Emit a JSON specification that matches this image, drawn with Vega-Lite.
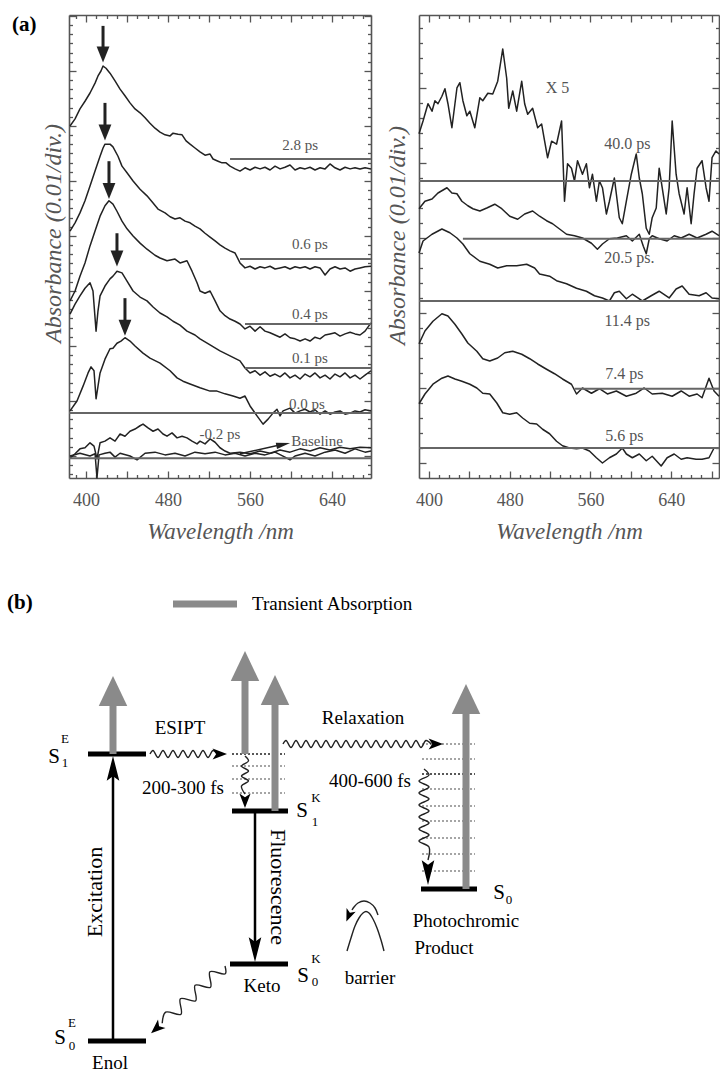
{
"$schema": "https://vega.github.io/schema/vega-lite/v6.json",
"background": "white",
"padding": {"left": 7, "top": 13, "right": 0, "bottom": 0},
"config": {"view": {"stroke": null}, "text": {"font": "Liberation Serif"}},
"datasets": {
"leftCurves": [
{"s":"2.8","x":384.4,"y":6.40},{"s":"2.8","x":389.3,"y":6.53},{"s":"2.8","x":394.1,"y":6.71},{"s":"2.8","x":399.0,"y":6.85},{"s":"2.8","x":403.9,"y":7.00},{"s":"2.8","x":408.8,"y":7.18},{"s":"2.8","x":411.7,"y":7.31},{"s":"2.8","x":414.6,"y":7.40},{"s":"2.8","x":416.6,"y":7.49},{"s":"2.8","x":419.5,"y":7.45},{"s":"2.8","x":423.4,"y":7.36},{"s":"2.8","x":428.3,"y":7.22},{"s":"2.8","x":433.2,"y":7.07},{"s":"2.8","x":438.0,"y":6.95},{"s":"2.8","x":442.9,"y":6.82},{"s":"2.8","x":447.8,"y":6.71},{"s":"2.8","x":452.7,"y":6.64},{"s":"2.8","x":457.6,"y":6.55},{"s":"2.8","x":462.4,"y":6.45},{"s":"2.8","x":467.3,"y":6.36},{"s":"2.8","x":472.2,"y":6.29},{"s":"2.8","x":477.1,"y":6.24},{"s":"2.8","x":482.0,"y":6.22},{"s":"2.8","x":484.9,"y":6.27},{"s":"2.8","x":489.8,"y":6.25},{"s":"2.8","x":493.7,"y":6.24},{"s":"2.8","x":497.6,"y":6.13},{"s":"2.8","x":501.5,"y":6.07},{"s":"2.8","x":506.3,"y":6.00},{"s":"2.8","x":511.2,"y":5.93},{"s":"2.8","x":516.1,"y":5.87},{"s":"2.8","x":521.0,"y":5.89},{"s":"2.8","x":523.9,"y":5.80},{"s":"2.8","x":528.8,"y":5.76},{"s":"2.8","x":532.7,"y":5.73},{"s":"2.8","x":536.6,"y":5.73},{"s":"2.8","x":540.5,"y":5.67},{"s":"2.8","x":545.4,"y":5.62},{"s":"2.8","x":550.2,"y":5.58},{"s":"2.8","x":555.1,"y":5.64},{"s":"2.8","x":560.0,"y":5.60},{"s":"2.8","x":564.9,"y":5.65},{"s":"2.8","x":569.8,"y":5.62},{"s":"2.8","x":574.6,"y":5.65},{"s":"2.8","x":579.5,"y":5.60},{"s":"2.8","x":584.4,"y":5.67},{"s":"2.8","x":589.3,"y":5.62},{"s":"2.8","x":594.1,"y":5.65},{"s":"2.8","x":599.0,"y":5.69},{"s":"2.8","x":603.9,"y":5.60},{"s":"2.8","x":608.8,"y":5.64},{"s":"2.8","x":613.7,"y":5.62},{"s":"2.8","x":618.5,"y":5.65},{"s":"2.8","x":623.4,"y":5.60},{"s":"2.8","x":628.3,"y":5.64},{"s":"2.8","x":633.2,"y":5.62},{"s":"2.8","x":638.0,"y":5.71},{"s":"2.8","x":642.9,"y":5.64},{"s":"2.8","x":647.8,"y":5.60},{"s":"2.8","x":652.7,"y":5.65},{"s":"2.8","x":657.6,"y":5.62},{"s":"2.8","x":662.4,"y":5.64},{"s":"2.8","x":667.3,"y":5.62},{"s":"2.8","x":672.2,"y":5.64},{"s":"2.8","x":678.0,"y":5.62},
{"s":"0.6","x":384.4,"y":4.49},{"s":"0.6","x":389.3,"y":4.64},{"s":"0.6","x":394.1,"y":4.82},{"s":"0.6","x":399.0,"y":5.04},{"s":"0.6","x":403.9,"y":5.31},{"s":"0.6","x":408.8,"y":5.58},{"s":"0.6","x":413.7,"y":5.85},{"s":"0.6","x":416.6,"y":6.00},{"s":"0.6","x":418.5,"y":6.07},{"s":"0.6","x":423.4,"y":6.07},{"s":"0.6","x":426.3,"y":6.02},{"s":"0.6","x":431.2,"y":5.85},{"s":"0.6","x":435.1,"y":5.67},{"s":"0.6","x":440.0,"y":5.55},{"s":"0.6","x":445.9,"y":5.40},{"s":"0.6","x":452.7,"y":5.25},{"s":"0.6","x":459.5,"y":5.13},{"s":"0.6","x":465.4,"y":5.00},{"s":"0.6","x":470.2,"y":4.89},{"s":"0.6","x":477.1,"y":4.82},{"s":"0.6","x":482.0,"y":4.75},{"s":"0.6","x":486.8,"y":4.71},{"s":"0.6","x":491.7,"y":4.73},{"s":"0.6","x":496.6,"y":4.67},{"s":"0.6","x":501.5,"y":4.64},{"s":"0.6","x":506.3,"y":4.58},{"s":"0.6","x":511.2,"y":4.53},{"s":"0.6","x":516.1,"y":4.45},{"s":"0.6","x":521.0,"y":4.38},{"s":"0.6","x":525.9,"y":4.31},{"s":"0.6","x":530.7,"y":4.24},{"s":"0.6","x":535.6,"y":4.18},{"s":"0.6","x":540.5,"y":4.13},{"s":"0.6","x":545.4,"y":4.09},{"s":"0.6","x":550.2,"y":3.91},{"s":"0.6","x":555.1,"y":3.82},{"s":"0.6","x":560.0,"y":3.85},{"s":"0.6","x":564.9,"y":3.80},{"s":"0.6","x":569.8,"y":3.84},{"s":"0.6","x":574.6,"y":3.82},{"s":"0.6","x":579.5,"y":3.85},{"s":"0.6","x":584.4,"y":3.80},{"s":"0.6","x":589.3,"y":3.82},{"s":"0.6","x":594.1,"y":3.84},{"s":"0.6","x":599.0,"y":3.80},{"s":"0.6","x":603.9,"y":3.84},{"s":"0.6","x":608.8,"y":3.82},{"s":"0.6","x":613.7,"y":3.84},{"s":"0.6","x":618.5,"y":3.80},{"s":"0.6","x":623.4,"y":3.84},{"s":"0.6","x":628.3,"y":3.82},{"s":"0.6","x":633.2,"y":3.69},{"s":"0.6","x":638.0,"y":3.80},{"s":"0.6","x":642.9,"y":3.84},{"s":"0.6","x":647.8,"y":3.80},{"s":"0.6","x":652.7,"y":3.82},{"s":"0.6","x":657.6,"y":3.76},{"s":"0.6","x":662.4,"y":3.80},{"s":"0.6","x":667.3,"y":3.82},{"s":"0.6","x":672.2,"y":3.84},{"s":"0.6","x":678.0,"y":3.85},
{"s":"0.4","x":384.4,"y":3.22},{"s":"0.4","x":389.3,"y":3.40},{"s":"0.4","x":394.1,"y":3.67},{"s":"0.4","x":399.0,"y":3.91},{"s":"0.4","x":403.9,"y":4.22},{"s":"0.4","x":408.8,"y":4.49},{"s":"0.4","x":413.7,"y":4.76},{"s":"0.4","x":418.5,"y":4.95},{"s":"0.4","x":422.4,"y":5.04},{"s":"0.4","x":426.3,"y":4.98},{"s":"0.4","x":430.2,"y":4.85},{"s":"0.4","x":435.1,"y":4.67},{"s":"0.4","x":440.0,"y":4.53},{"s":"0.4","x":445.9,"y":4.40},{"s":"0.4","x":452.7,"y":4.27},{"s":"0.4","x":459.5,"y":4.16},{"s":"0.4","x":467.3,"y":4.05},{"s":"0.4","x":472.2,"y":4.00},{"s":"0.4","x":479.0,"y":3.95},{"s":"0.4","x":486.8,"y":3.98},{"s":"0.4","x":491.7,"y":3.91},{"s":"0.4","x":498.5,"y":3.95},{"s":"0.4","x":503.4,"y":3.76},{"s":"0.4","x":508.3,"y":3.55},{"s":"0.4","x":511.2,"y":3.40},{"s":"0.4","x":516.1,"y":3.36},{"s":"0.4","x":521.0,"y":3.40},{"s":"0.4","x":525.9,"y":3.22},{"s":"0.4","x":530.7,"y":3.04},{"s":"0.4","x":535.6,"y":2.95},{"s":"0.4","x":540.5,"y":2.89},{"s":"0.4","x":545.4,"y":2.85},{"s":"0.4","x":550.2,"y":2.80},{"s":"0.4","x":555.1,"y":2.71},{"s":"0.4","x":560.0,"y":2.76},{"s":"0.4","x":564.9,"y":2.67},{"s":"0.4","x":569.8,"y":2.75},{"s":"0.4","x":574.6,"y":2.67},{"s":"0.4","x":579.5,"y":2.64},{"s":"0.4","x":584.4,"y":2.60},{"s":"0.4","x":589.3,"y":2.56},{"s":"0.4","x":594.1,"y":2.62},{"s":"0.4","x":599.0,"y":2.55},{"s":"0.4","x":603.9,"y":2.53},{"s":"0.4","x":608.8,"y":2.49},{"s":"0.4","x":613.7,"y":2.53},{"s":"0.4","x":618.5,"y":2.49},{"s":"0.4","x":623.4,"y":2.56},{"s":"0.4","x":628.3,"y":2.53},{"s":"0.4","x":633.2,"y":2.60},{"s":"0.4","x":638.0,"y":2.62},{"s":"0.4","x":642.9,"y":2.64},{"s":"0.4","x":647.8,"y":2.58},{"s":"0.4","x":652.7,"y":2.62},{"s":"0.4","x":657.6,"y":2.65},{"s":"0.4","x":662.4,"y":2.62},{"s":"0.4","x":667.3,"y":2.60},{"s":"0.4","x":672.2,"y":2.67},{"s":"0.4","x":678.0,"y":2.82},
{"s":"0.1","x":384.4,"y":2.98},{"s":"0.1","x":389.3,"y":3.16},{"s":"0.1","x":394.1,"y":3.31},{"s":"0.1","x":399.0,"y":3.45},{"s":"0.1","x":403.9,"y":3.55},{"s":"0.1","x":406.8,"y":3.40},{"s":"0.1","x":409.8,"y":2.67},{"s":"0.1","x":411.7,"y":3.04},{"s":"0.1","x":413.7,"y":3.31},{"s":"0.1","x":418.5,"y":3.49},{"s":"0.1","x":423.4,"y":3.62},{"s":"0.1","x":426.3,"y":3.67},{"s":"0.1","x":430.2,"y":3.76},{"s":"0.1","x":435.1,"y":3.73},{"s":"0.1","x":440.0,"y":3.58},{"s":"0.1","x":445.9,"y":3.40},{"s":"0.1","x":452.7,"y":3.29},{"s":"0.1","x":459.5,"y":3.22},{"s":"0.1","x":465.4,"y":3.11},{"s":"0.1","x":472.2,"y":3.00},{"s":"0.1","x":479.0,"y":2.93},{"s":"0.1","x":484.9,"y":2.85},{"s":"0.1","x":491.7,"y":2.78},{"s":"0.1","x":498.5,"y":2.67},{"s":"0.1","x":506.3,"y":2.60},{"s":"0.1","x":511.2,"y":2.53},{"s":"0.1","x":521.0,"y":2.42},{"s":"0.1","x":530.7,"y":2.31},{"s":"0.1","x":540.5,"y":2.22},{"s":"0.1","x":550.2,"y":2.13},{"s":"0.1","x":555.1,"y":2.00},{"s":"0.1","x":560.0,"y":1.91},{"s":"0.1","x":564.9,"y":1.95},{"s":"0.1","x":569.8,"y":1.87},{"s":"0.1","x":574.6,"y":1.93},{"s":"0.1","x":579.5,"y":1.85},{"s":"0.1","x":584.4,"y":1.89},{"s":"0.1","x":589.3,"y":1.84},{"s":"0.1","x":594.1,"y":1.91},{"s":"0.1","x":599.0,"y":1.82},{"s":"0.1","x":603.9,"y":1.87},{"s":"0.1","x":608.8,"y":1.80},{"s":"0.1","x":613.7,"y":1.89},{"s":"0.1","x":618.5,"y":1.84},{"s":"0.1","x":623.4,"y":1.91},{"s":"0.1","x":628.3,"y":1.82},{"s":"0.1","x":633.2,"y":1.87},{"s":"0.1","x":638.0,"y":1.80},{"s":"0.1","x":642.9,"y":1.89},{"s":"0.1","x":647.8,"y":1.84},{"s":"0.1","x":652.7,"y":1.91},{"s":"0.1","x":657.6,"y":1.82},{"s":"0.1","x":662.4,"y":1.87},{"s":"0.1","x":667.3,"y":1.80},{"s":"0.1","x":672.2,"y":1.87},{"s":"0.1","x":678.0,"y":1.95},
{"s":"0.0","x":384.4,"y":1.22},{"s":"0.0","x":391.2,"y":1.40},{"s":"0.0","x":397.1,"y":1.67},{"s":"0.0","x":402.0,"y":1.91},{"s":"0.0","x":404.9,"y":2.02},{"s":"0.0","x":407.8,"y":1.95},{"s":"0.0","x":409.8,"y":1.44},{"s":"0.0","x":411.7,"y":1.67},{"s":"0.0","x":413.7,"y":1.91},{"s":"0.0","x":418.5,"y":2.16},{"s":"0.0","x":423.4,"y":2.35},{"s":"0.0","x":426.3,"y":2.36},{"s":"0.0","x":430.2,"y":2.45},{"s":"0.0","x":434.1,"y":2.49},{"s":"0.0","x":438.0,"y":2.55},{"s":"0.0","x":442.9,"y":2.49},{"s":"0.0","x":447.8,"y":2.40},{"s":"0.0","x":455.6,"y":2.27},{"s":"0.0","x":462.4,"y":2.18},{"s":"0.0","x":472.2,"y":2.09},{"s":"0.0","x":482.0,"y":1.95},{"s":"0.0","x":488.8,"y":1.82},{"s":"0.0","x":494.6,"y":1.76},{"s":"0.0","x":501.5,"y":1.71},{"s":"0.0","x":511.2,"y":1.64},{"s":"0.0","x":521.0,"y":1.58},{"s":"0.0","x":527.8,"y":1.58},{"s":"0.0","x":535.6,"y":1.53},{"s":"0.0","x":543.4,"y":1.49},{"s":"0.0","x":550.2,"y":1.45},{"s":"0.0","x":555.1,"y":1.49},{"s":"0.0","x":560.0,"y":1.31},{"s":"0.0","x":566.8,"y":1.13},{"s":"0.0","x":572.7,"y":0.98},{"s":"0.0","x":577.6,"y":1.07},{"s":"0.0","x":582.4,"y":1.18},{"s":"0.0","x":586.3,"y":1.25},{"s":"0.0","x":589.3,"y":1.13},{"s":"0.0","x":592.2,"y":1.22},{"s":"0.0","x":599.0,"y":1.27},{"s":"0.0","x":603.9,"y":1.18},{"s":"0.0","x":608.8,"y":1.22},{"s":"0.0","x":613.7,"y":1.25},{"s":"0.0","x":618.5,"y":1.20},{"s":"0.0","x":623.4,"y":1.24},{"s":"0.0","x":628.3,"y":1.16},{"s":"0.0","x":633.2,"y":1.22},{"s":"0.0","x":638.0,"y":1.16},{"s":"0.0","x":642.9,"y":1.20},{"s":"0.0","x":647.8,"y":1.22},{"s":"0.0","x":652.7,"y":1.16},{"s":"0.0","x":657.6,"y":1.18},{"s":"0.0","x":662.4,"y":1.22},{"s":"0.0","x":667.3,"y":1.20},{"s":"0.0","x":672.2,"y":1.24},{"s":"0.0","x":678.0,"y":1.22},
{"s":"-0.2","x":384.4,"y":0.36},{"s":"-0.2","x":389.3,"y":0.44},{"s":"-0.2","x":394.1,"y":0.53},{"s":"-0.2","x":399.0,"y":0.55},{"s":"-0.2","x":403.9,"y":0.64},{"s":"-0.2","x":407.8,"y":0.58},{"s":"-0.2","x":410.7,"y":0.35},{"s":"-0.2","x":413.7,"y":0.64},{"s":"-0.2","x":418.5,"y":0.67},{"s":"-0.2","x":423.4,"y":0.73},{"s":"-0.2","x":428.3,"y":0.67},{"s":"-0.2","x":433.2,"y":0.80},{"s":"-0.2","x":438.0,"y":0.76},{"s":"-0.2","x":442.9,"y":0.85},{"s":"-0.2","x":447.8,"y":0.89},{"s":"-0.2","x":452.7,"y":0.95},{"s":"-0.2","x":455.6,"y":0.98},{"s":"-0.2","x":460.5,"y":0.91},{"s":"-0.2","x":465.4,"y":0.85},{"s":"-0.2","x":470.2,"y":0.89},{"s":"-0.2","x":475.1,"y":0.80},{"s":"-0.2","x":479.0,"y":0.76},{"s":"-0.2","x":483.9,"y":0.82},{"s":"-0.2","x":488.8,"y":0.73},{"s":"-0.2","x":493.7,"y":0.76},{"s":"-0.2","x":498.5,"y":0.73},{"s":"-0.2","x":503.4,"y":0.67},{"s":"-0.2","x":508.3,"y":0.62},{"s":"-0.2","x":511.2,"y":0.67},{"s":"-0.2","x":516.1,"y":0.62},{"s":"-0.2","x":521.0,"y":0.71},{"s":"-0.2","x":525.9,"y":0.65},{"s":"-0.2","x":530.7,"y":0.55},{"s":"-0.2","x":535.6,"y":0.49},{"s":"-0.2","x":540.5,"y":0.45},{"s":"-0.2","x":550.2,"y":0.47},{"s":"-0.2","x":560.0,"y":0.44},{"s":"-0.2","x":569.8,"y":0.49},{"s":"-0.2","x":579.5,"y":0.45},{"s":"-0.2","x":589.3,"y":0.51},{"s":"-0.2","x":599.0,"y":0.47},{"s":"-0.2","x":608.8,"y":0.53},{"s":"-0.2","x":618.5,"y":0.49},{"s":"-0.2","x":628.3,"y":0.55},{"s":"-0.2","x":638.0,"y":0.51},{"s":"-0.2","x":647.8,"y":0.56},{"s":"-0.2","x":657.6,"y":0.53},{"s":"-0.2","x":667.3,"y":0.56},{"s":"-0.2","x":678.0,"y":0.55},
{"s":"base","x":384.4,"y":0.40},{"s":"base","x":394.1,"y":0.45},{"s":"base","x":403.9,"y":0.40},{"s":"base","x":408.8,"y":0.44},{"s":"base","x":410.7,"y":0.00},{"s":"base","x":412.7,"y":0.42},{"s":"base","x":418.5,"y":0.45},{"s":"base","x":423.4,"y":0.47},{"s":"base","x":428.3,"y":0.38},{"s":"base","x":433.2,"y":0.45},{"s":"base","x":442.9,"y":0.40},{"s":"base","x":449.8,"y":0.33},{"s":"base","x":457.6,"y":0.45},{"s":"base","x":467.3,"y":0.47},{"s":"base","x":477.1,"y":0.42},{"s":"base","x":486.8,"y":0.45},{"s":"base","x":496.6,"y":0.40},{"s":"base","x":506.3,"y":0.47},{"s":"base","x":516.1,"y":0.44},{"s":"base","x":525.9,"y":0.47},{"s":"base","x":535.6,"y":0.42},{"s":"base","x":545.4,"y":0.45},{"s":"base","x":555.1,"y":0.40},{"s":"base","x":564.9,"y":0.45},{"s":"base","x":574.6,"y":0.42},{"s":"base","x":584.4,"y":0.47},{"s":"base","x":594.1,"y":0.38},{"s":"base","x":599.0,"y":0.33},{"s":"base","x":603.9,"y":0.40},{"s":"base","x":613.7,"y":0.45},{"s":"base","x":623.4,"y":0.40},{"s":"base","x":633.2,"y":0.47},{"s":"base","x":642.9,"y":0.51},{"s":"base","x":652.7,"y":0.45},{"s":"base","x":662.4,"y":0.53},{"s":"base","x":672.2,"y":0.47},{"s":"base","x":678.0,"y":0.49}
],
"leftRefs": [
{"s":"2.8","x1":540.5,"x2":678,"y":5.80},{"s":"0.6","x1":550.2,"x2":678,"y":3.98},{"s":"0.4","x1":555.1,"x2":678,"y":2.80},{"s":"0.1","x1":555.1,"x2":678,"y":2.00},{"s":"0.0","x1":383.4,"x2":678,"y":1.18},{"s":"base","x1":383.4,"x2":678,"y":0.36}
],
"leftLabels": [
{"t":"2.8 ps","x":608.8,"y":6.05},{"t":"0.6 ps","x":618.5,"y":4.25},{"t":"0.4 ps","x":618.5,"y":2.98},{"t":"0.1 ps","x":618.5,"y":2.18},{"t":"0.0 ps","x":615.6,"y":1.35},{"t":"-0.2 ps","x":530.7,"y":0.80},{"t":"Baseline","x":625.4,"y":0.67}
],
"leftArrows": [
{"x":416.6,"y1":8.22,"y2":7.82,"yh":7.70},{"x":418.5,"y1":6.82,"y2":6.40,"yh":6.28},{"x":422.4,"y1":5.76,"y2":5.34,"yh":5.22},{"x":430.2,"y1":4.45,"y2":4.11,"yh":3.99},{"x":438.0,"y1":3.27,"y2":2.85,"yh":2.73}
],
"baseArrow": [{"x1":550.2,"y1":0.44,"x2":591.0,"y2":0.61,"xh":592.4,"yh":0.61}],
"tagA": [{"t":"(a)","x":327.8,"y":8.24}],
"rightCurves": [
{"s":"40.0","x":390.1,"y":4.59},{"s":"40.0","x":394.1,"y":4.76},{"s":"40.0","x":399.0,"y":4.99},{"s":"40.0","x":403.0,"y":4.89},{"s":"40.0","x":405.9,"y":5.03},{"s":"40.0","x":408.9,"y":4.99},{"s":"40.0","x":412.8,"y":5.09},{"s":"40.0","x":415.8,"y":5.19},{"s":"40.0","x":418.8,"y":4.99},{"s":"40.0","x":422.7,"y":4.67},{"s":"40.0","x":427.7,"y":5.20},{"s":"40.0","x":430.6,"y":5.27},{"s":"40.0","x":433.6,"y":5.03},{"s":"40.0","x":437.5,"y":4.83},{"s":"40.0","x":440.5,"y":4.89},{"s":"40.0","x":445.4,"y":4.67},{"s":"40.0","x":450.4,"y":5.07},{"s":"40.0","x":453.3,"y":5.03},{"s":"40.0","x":458.3,"y":5.13},{"s":"40.0","x":463.2,"y":5.12},{"s":"40.0","x":468.1,"y":5.29},{"s":"40.0","x":473.1,"y":5.72},{"s":"40.0","x":477.0,"y":5.33},{"s":"40.0","x":479.0,"y":4.93},{"s":"40.0","x":483.0,"y":5.16},{"s":"40.0","x":486.9,"y":4.89},{"s":"40.0","x":491.9,"y":5.29},{"s":"40.0","x":494.8,"y":4.99},{"s":"40.0","x":497.8,"y":4.85},{"s":"40.0","x":502.7,"y":4.93},{"s":"40.0","x":507.7,"y":4.67},{"s":"40.0","x":511.6,"y":4.72},{"s":"40.0","x":514.6,"y":4.49},{"s":"40.0","x":517.5,"y":4.27},{"s":"40.0","x":521.5,"y":4.49},{"s":"40.0","x":526.4,"y":4.45},{"s":"40.0","x":531.4,"y":4.76},{"s":"40.0","x":534.3,"y":3.69},{"s":"40.0","x":537.3,"y":4.19},{"s":"40.0","x":541.2,"y":4.13},{"s":"40.0","x":544.2,"y":3.96},{"s":"40.0","x":547.2,"y":4.23},{"s":"40.0","x":552.1,"y":4.05},{"s":"40.0","x":556.0,"y":4.19},{"s":"40.0","x":559.0,"y":3.87},{"s":"40.0","x":562.0,"y":4.05},{"s":"40.0","x":565.9,"y":3.69},{"s":"40.0","x":568.9,"y":3.96},{"s":"40.0","x":571.9,"y":3.87},{"s":"40.0","x":575.8,"y":3.52},{"s":"40.0","x":578.8,"y":3.69},{"s":"40.0","x":583.7,"y":4.00},{"s":"40.0","x":588.6,"y":3.47},{"s":"40.0","x":591.6,"y":3.39},{"s":"40.0","x":595.6,"y":3.69},{"s":"40.0","x":600.5,"y":4.05},{"s":"40.0","x":605.4,"y":4.32},{"s":"40.0","x":608.4,"y":4.00},{"s":"40.0","x":611.4,"y":3.79},{"s":"40.0","x":615.3,"y":3.33},{"s":"40.0","x":618.3,"y":3.25},{"s":"40.0","x":621.2,"y":3.47},{"s":"40.0","x":625.2,"y":3.60},{"s":"40.0","x":628.1,"y":4.13},{"s":"40.0","x":631.1,"y":3.87},{"s":"40.0","x":635.1,"y":3.52},{"s":"40.0","x":638.0,"y":3.87},{"s":"40.0","x":641.0,"y":4.76},{"s":"40.0","x":644.9,"y":4.05},{"s":"40.0","x":647.9,"y":3.79},{"s":"40.0","x":652.8,"y":3.52},{"s":"40.0","x":655.8,"y":3.87},{"s":"40.0","x":659.8,"y":3.39},{"s":"40.0","x":662.7,"y":3.79},{"s":"40.0","x":665.7,"y":4.13},{"s":"40.0","x":670.6,"y":4.23},{"s":"40.0","x":674.6,"y":3.87},{"s":"40.0","x":677.5,"y":3.69},{"s":"40.0","x":680.5,"y":4.27},{"s":"40.0","x":684.4,"y":4.36},{"s":"40.0","x":687.4,"y":4.32},
{"s":"20.5","x":390.1,"y":3.59},{"s":"20.5","x":396.0,"y":3.69},{"s":"20.5","x":403.0,"y":3.72},{"s":"20.5","x":408.9,"y":3.80},{"s":"20.5","x":417.8,"y":3.87},{"s":"20.5","x":422.7,"y":3.80},{"s":"20.5","x":427.7,"y":3.79},{"s":"20.5","x":432.6,"y":3.69},{"s":"20.5","x":438.5,"y":3.63},{"s":"20.5","x":443.5,"y":3.59},{"s":"20.5","x":450.4,"y":3.56},{"s":"20.5","x":457.3,"y":3.60},{"s":"20.5","x":465.2,"y":3.65},{"s":"20.5","x":472.1,"y":3.59},{"s":"20.5","x":480.0,"y":3.49},{"s":"20.5","x":487.9,"y":3.45},{"s":"20.5","x":494.8,"y":3.52},{"s":"20.5","x":502.7,"y":3.56},{"s":"20.5","x":509.6,"y":3.49},{"s":"20.5","x":516.5,"y":3.43},{"s":"20.5","x":522.5,"y":3.39},{"s":"20.5","x":529.4,"y":3.32},{"s":"20.5","x":536.3,"y":3.25},{"s":"20.5","x":544.2,"y":3.23},{"s":"20.5","x":552.1,"y":3.20},{"s":"20.5","x":561.0,"y":3.13},{"s":"20.5","x":566.9,"y":3.05},{"s":"20.5","x":571.9,"y":3.12},{"s":"20.5","x":578.8,"y":3.19},{"s":"20.5","x":586.7,"y":3.20},{"s":"20.5","x":595.6,"y":3.23},{"s":"20.5","x":601.5,"y":3.16},{"s":"20.5","x":608.4,"y":3.25},{"s":"20.5","x":612.4,"y":3.09},{"s":"20.5","x":615.3,"y":2.99},{"s":"20.5","x":618.3,"y":3.19},{"s":"20.5","x":621.2,"y":3.23},{"s":"20.5","x":628.1,"y":3.19},{"s":"20.5","x":636.0,"y":3.16},{"s":"20.5","x":643.0,"y":3.23},{"s":"20.5","x":649.9,"y":3.20},{"s":"20.5","x":657.8,"y":3.25},{"s":"20.5","x":665.7,"y":3.20},{"s":"20.5","x":674.6,"y":3.25},{"s":"20.5","x":680.5,"y":3.29},{"s":"20.5","x":687.4,"y":3.23},
{"s":"11.4","x":390.1,"y":3.00},{"s":"11.4","x":394.1,"y":3.16},{"s":"11.4","x":403.0,"y":3.25},{"s":"11.4","x":412.8,"y":3.32},{"s":"11.4","x":420.7,"y":3.27},{"s":"11.4","x":427.7,"y":3.20},{"s":"11.4","x":433.6,"y":3.12},{"s":"11.4","x":440.5,"y":2.99},{"s":"11.4","x":450.4,"y":2.89},{"s":"11.4","x":460.2,"y":2.85},{"s":"11.4","x":468.1,"y":2.80},{"s":"11.4","x":477.0,"y":2.83},{"s":"11.4","x":486.9,"y":2.83},{"s":"11.4","x":496.8,"y":2.85},{"s":"11.4","x":504.7,"y":2.80},{"s":"11.4","x":509.6,"y":2.72},{"s":"11.4","x":519.5,"y":2.69},{"s":"11.4","x":526.4,"y":2.63},{"s":"11.4","x":536.3,"y":2.59},{"s":"11.4","x":546.2,"y":2.53},{"s":"11.4","x":556.0,"y":2.49},{"s":"11.4","x":564.0,"y":2.43},{"s":"11.4","x":571.9,"y":2.40},{"s":"11.4","x":578.8,"y":2.36},{"s":"11.4","x":583.7,"y":2.47},{"s":"11.4","x":588.6,"y":2.49},{"s":"11.4","x":595.6,"y":2.39},{"s":"11.4","x":601.5,"y":2.45},{"s":"11.4","x":611.4,"y":2.36},{"s":"11.4","x":620.2,"y":2.43},{"s":"11.4","x":628.1,"y":2.49},{"s":"11.4","x":638.0,"y":2.40},{"s":"11.4","x":644.9,"y":2.52},{"s":"11.4","x":650.9,"y":2.56},{"s":"11.4","x":657.8,"y":2.45},{"s":"11.4","x":667.7,"y":2.43},{"s":"11.4","x":674.6,"y":2.47},{"s":"11.4","x":680.5,"y":2.40},{"s":"11.4","x":687.4,"y":2.39},
{"s":"7.4","x":390.1,"y":1.79},{"s":"7.4","x":396.0,"y":1.96},{"s":"7.4","x":403.9,"y":2.09},{"s":"7.4","x":412.8,"y":2.19},{"s":"7.4","x":418.8,"y":2.16},{"s":"7.4","x":425.7,"y":2.05},{"s":"7.4","x":432.6,"y":1.92},{"s":"7.4","x":438.5,"y":1.80},{"s":"7.4","x":447.4,"y":1.69},{"s":"7.4","x":453.3,"y":1.59},{"s":"7.4","x":460.2,"y":1.56},{"s":"7.4","x":468.1,"y":1.60},{"s":"7.4","x":475.1,"y":1.67},{"s":"7.4","x":483.0,"y":1.69},{"s":"7.4","x":491.9,"y":1.65},{"s":"7.4","x":499.8,"y":1.59},{"s":"7.4","x":507.7,"y":1.52},{"s":"7.4","x":516.5,"y":1.45},{"s":"7.4","x":524.4,"y":1.39},{"s":"7.4","x":532.3,"y":1.32},{"s":"7.4","x":541.2,"y":1.25},{"s":"7.4","x":546.2,"y":1.12},{"s":"7.4","x":552.1,"y":1.20},{"s":"7.4","x":561.0,"y":1.13},{"s":"7.4","x":568.9,"y":1.19},{"s":"7.4","x":576.8,"y":1.12},{"s":"7.4","x":585.7,"y":1.16},{"s":"7.4","x":595.6,"y":1.09},{"s":"7.4","x":605.4,"y":1.13},{"s":"7.4","x":613.3,"y":1.20},{"s":"7.4","x":621.2,"y":1.12},{"s":"7.4","x":631.1,"y":1.13},{"s":"7.4","x":641.0,"y":1.09},{"s":"7.4","x":649.9,"y":1.16},{"s":"7.4","x":657.8,"y":1.09},{"s":"7.4","x":665.7,"y":1.12},{"s":"7.4","x":670.6,"y":1.07},{"s":"7.4","x":677.5,"y":1.33},{"s":"7.4","x":682.5,"y":1.16},{"s":"7.4","x":687.4,"y":1.09},
{"s":"5.6","x":390.1,"y":0.99},{"s":"5.6","x":396.0,"y":1.12},{"s":"5.6","x":403.9,"y":1.25},{"s":"5.6","x":412.8,"y":1.33},{"s":"5.6","x":418.8,"y":1.36},{"s":"5.6","x":425.7,"y":1.32},{"s":"5.6","x":432.6,"y":1.29},{"s":"5.6","x":440.5,"y":1.25},{"s":"5.6","x":447.4,"y":1.20},{"s":"5.6","x":453.3,"y":1.13},{"s":"5.6","x":460.2,"y":1.12},{"s":"5.6","x":467.2,"y":1.00},{"s":"5.6","x":473.1,"y":0.87},{"s":"5.6","x":480.0,"y":0.85},{"s":"5.6","x":486.9,"y":0.87},{"s":"5.6","x":492.8,"y":0.80},{"s":"5.6","x":499.8,"y":0.73},{"s":"5.6","x":506.7,"y":0.72},{"s":"5.6","x":512.6,"y":0.65},{"s":"5.6","x":519.5,"y":0.59},{"s":"5.6","x":526.4,"y":0.49},{"s":"5.6","x":532.3,"y":0.43},{"s":"5.6","x":539.3,"y":0.40},{"s":"5.6","x":546.2,"y":0.39},{"s":"5.6","x":552.1,"y":0.40},{"s":"5.6","x":559.0,"y":0.36},{"s":"5.6","x":565.9,"y":0.27},{"s":"5.6","x":571.9,"y":0.20},{"s":"5.6","x":578.8,"y":0.27},{"s":"5.6","x":585.7,"y":0.32},{"s":"5.6","x":591.6,"y":0.40},{"s":"5.6","x":595.6,"y":0.32},{"s":"5.6","x":601.5,"y":0.27},{"s":"5.6","x":608.4,"y":0.32},{"s":"5.6","x":615.3,"y":0.23},{"s":"5.6","x":621.2,"y":0.29},{"s":"5.6","x":630.1,"y":0.16},{"s":"5.6","x":636.0,"y":0.27},{"s":"5.6","x":643.0,"y":0.32},{"s":"5.6","x":649.9,"y":0.25},{"s":"5.6","x":655.8,"y":0.27},{"s":"5.6","x":664.7,"y":0.25},{"s":"5.6","x":670.6,"y":0.25},{"s":"5.6","x":677.5,"y":0.27},{"s":"5.6","x":682.5,"y":0.40},{"s":"5.6","x":687.4,"y":0.40}
],
"rightRefs": [
{"s":"40.0","x1":390.1,"x2":687.4,"y":3.96},{"s":"20.5","x1":433.6,"x2":687.4,"y":3.19},{"s":"11.4","x1":390.1,"x2":687.4,"y":2.36},{"s":"7.4","x1":544.2,"x2":687.4,"y":1.19},{"s":"5.6","x1":390.1,"x2":687.4,"y":0.40}
],
"rightLabels": [
{"t":"X 5","x":527.4,"y":5.20},{"t":"40.0 ps","x":596.5,"y":4.45},{"t":"20.5 ps.","x":598.5,"y":2.93},{"t":"11.4 ps","x":596.5,"y":2.09},{"t":"7.4 ps","x":593.6,"y":1.39},{"t":"5.6 ps","x":593.6,"y":0.56}
],
"levels": [
{"n":"S1E","u1":19,"u2":77,"v":318},{"n":"S0E","u1":19,"u2":77,"v":31},{"n":"S1K","u1":163,"u2":219,"v":261},{"n":"S0K","u1":161,"u2":219,"v":108},{"n":"S0P","u1":352,"u2":408,"v":183}
],
"vib": [
{"g":"keto","k":"strong","u1":163,"u2":216,"v":318},{"g":"keto","k":"weak","u1":163,"u2":216,"v":306},{"g":"keto","k":"weak","u1":163,"u2":216,"v":293},{"g":"keto","k":"weak","u1":163,"u2":216,"v":279},
{"g":"prod","k":"weak","u1":353,"u2":406,"v":328},{"g":"prod","k":"weak","u1":353,"u2":406,"v":313},{"g":"prod","k":"strong","u1":353,"u2":406,"v":298},{"g":"prod","k":"weak","u1":353,"u2":406,"v":283},{"g":"prod","k":"weak","u1":353,"u2":406,"v":266},{"g":"prod","k":"weak","u1":353,"u2":406,"v":251},{"g":"prod","k":"weak","u1":353,"u2":406,"v":234},{"g":"prod","k":"weak","u1":353,"u2":406,"v":218},{"g":"prod","k":"weak","u1":353,"u2":406,"v":201}
],
"ta": [
{"u":44,"v0":318,"v1":372,"vh":381},{"u":176,"v0":318,"v1":397,"vh":406},{"u":206,"v0":261,"v1":373,"vh":382},{"u":397,"v0":183,"v1":364,"vh":373}
],
"trans": [
{"n":"Excitation","u":44,"v0":31,"v1":296},{"n":"Fluorescence","u":186,"v0":261,"v1":128}
],
"waves": [
{"id":"esipt","i":0,"u":81,"v":318},{"id":"esipt","i":1,"u":84,"v":321.5},{"id":"esipt","i":2,"u":89,"v":314.5},{"id":"esipt","i":3,"u":94,"v":321.5},{"id":"esipt","i":4,"u":99,"v":314.5},{"id":"esipt","i":5,"u":104,"v":321.5},{"id":"esipt","i":6,"u":109,"v":314.5},{"id":"esipt","i":7,"u":114,"v":321.5},{"id":"esipt","i":8,"u":119,"v":314.5},{"id":"esipt","i":9,"u":124,"v":321.5},{"id":"esipt","i":10,"u":129,"v":314.5},{"id":"esipt","i":11,"u":134,"v":321.5},{"id":"esipt","i":12,"u":139,"v":314.5},{"id":"esipt","i":13,"u":144,"v":321.5},{"id":"esipt","i":14,"u":148,"v":318},
{"id":"relax","i":0,"u":214,"v":328},{"id":"relax","i":1,"u":217,"v":331.5},{"id":"relax","i":2,"u":222,"v":324.5},{"id":"relax","i":3,"u":227,"v":331.5},{"id":"relax","i":4,"u":232,"v":324.5},{"id":"relax","i":5,"u":237,"v":331.5},{"id":"relax","i":6,"u":242,"v":324.5},{"id":"relax","i":7,"u":247,"v":331.5},{"id":"relax","i":8,"u":252,"v":324.5},{"id":"relax","i":9,"u":257,"v":331.5},{"id":"relax","i":10,"u":262,"v":324.5},{"id":"relax","i":11,"u":267,"v":331.5},{"id":"relax","i":12,"u":272,"v":324.5},{"id":"relax","i":13,"u":277,"v":331.5},{"id":"relax","i":14,"u":282,"v":324.5},{"id":"relax","i":15,"u":287,"v":331.5},{"id":"relax","i":16,"u":292,"v":324.5},{"id":"relax","i":17,"u":297,"v":331.5},{"id":"relax","i":18,"u":302,"v":324.5},{"id":"relax","i":19,"u":307,"v":331.5},{"id":"relax","i":20,"u":312,"v":324.5},{"id":"relax","i":21,"u":317,"v":331.5},{"id":"relax","i":22,"u":322,"v":324.5},{"id":"relax","i":23,"u":327,"v":331.5},{"id":"relax","i":24,"u":332,"v":324.5},{"id":"relax","i":25,"u":337,"v":331.5},{"id":"relax","i":26,"u":342,"v":324.5},{"id":"relax","i":27,"u":347,"v":331.5},{"id":"relax","i":28,"u":352,"v":324.5},{"id":"relax","i":29,"u":357,"v":331.5},{"id":"relax","i":30,"u":362,"v":328},
{"id":"keto","i":0,"u":176,"v":316},{"id":"keto","i":1,"u":179.5,"v":311},{"id":"keto","i":2,"u":172.5,"v":306},{"id":"keto","i":3,"u":179.5,"v":301},{"id":"keto","i":4,"u":172.5,"v":296},{"id":"keto","i":5,"u":179.5,"v":291},{"id":"keto","i":6,"u":172.5,"v":286},{"id":"keto","i":7,"u":176,"v":278},
{"id":"prod","i":0,"u":355,"v":303},{"id":"prod","i":1,"u":360,"v":297},{"id":"prod","i":2,"u":350,"v":291},{"id":"prod","i":3,"u":360,"v":285},{"id":"prod","i":4,"u":350,"v":279},{"id":"prod","i":5,"u":360,"v":273},{"id":"prod","i":6,"u":350,"v":267},{"id":"prod","i":7,"u":360,"v":261},{"id":"prod","i":8,"u":350,"v":255},{"id":"prod","i":9,"u":360,"v":249},{"id":"prod","i":10,"u":350,"v":243},{"id":"prod","i":11,"u":360,"v":237},{"id":"prod","i":12,"u":350,"v":231},{"id":"prod","i":13,"u":360,"v":225},{"id":"prod","i":14,"u":359,"v":212},
{"id":"enol","i":0,"u":156,"v":106},{"id":"enol","i":1,"u":156.3,"v":98.2},{"id":"enol","i":2,"u":140.9,"v":100.3},{"id":"enol","i":3,"u":141.5,"v":84.7},{"id":"enol","i":4,"u":126.1,"v":86.8},{"id":"enol","i":5,"u":126.7,"v":71.3},{"id":"enol","i":6,"u":111.4,"v":73.3},{"id":"enol","i":7,"u":112.0,"v":57.8},{"id":"enol","i":8,"u":96.6,"v":59.8},{"id":"enol","i":9,"u":93.2,"v":48.7},
{"id":"hump","i":0,"u":278,"v":121},{"id":"hump","i":1,"u":282,"v":134},{"id":"hump","i":2,"u":286,"v":146},{"id":"hump","i":3,"u":290,"v":154},{"id":"hump","i":4,"u":294,"v":159},{"id":"hump","i":5,"u":297,"v":160.5},{"id":"hump","i":6,"u":300,"v":159},{"id":"hump","i":7,"u":304,"v":153},{"id":"hump","i":8,"u":308,"v":144},{"id":"hump","i":9,"u":312,"v":132},{"id":"hump","i":10,"u":315,"v":121},
{"id":"over","i":0,"u":309,"v":157},{"id":"over","i":1,"u":306,"v":164},{"id":"over","i":2,"u":301,"v":169},{"id":"over","i":3,"u":295,"v":171},{"id":"over","i":4,"u":289,"v":169},{"id":"over","i":5,"u":285,"v":165},{"id":"over","i":6,"u":283,"v":162}
],
"heads": [
{"n":"Excitation","k":"big","d":"up","u":44,"v":301},{"n":"Fluorescence","k":"big","d":"down","u":186,"v":125},{"n":"prod","k":"big","d":"down","u":359,"v":202},
{"n":"esipt","k":"small","d":"right","u":150,"v":318},{"n":"relax","k":"small","d":"right","u":366,"v":328},{"n":"keto","k":"small","d":"down","u":176,"v":272},{"n":"enol","k":"small","d":"downleft","u":88,"v":44},{"n":"barrier","k":"small","d":"barrier","u":280,"v":157}
],
"dtext": [
{"t":"ESIPT","u":111,"v":344},{"t":"200-300 fs","u":114,"v":284},{"t":"Relaxation","u":294,"v":354},{"t":"400-600 fs","u":301,"v":291},{"t":"Keto","u":193,"v":86},{"t":"Enol","u":41,"v":9},{"t":"barrier","u":301,"v":94},{"t":"Photochromic","u":397,"v":151},{"t":"Product","u":375,"v":124}
],
"sLetters": [
{"t":"S","u":-15,"v":315},{"t":"S","u":-9,"v":34},{"t":"S","u":233,"v":261},{"t":"S","u":234,"v":96},{"t":"S","u":430,"v":179}
],
"sIdx": [
{"t":"E","u":-4,"v":333},{"t":"1","u":-4,"v":309},{"t":"E","u":3,"v":49},{"t":"0","u":3,"v":26},{"t":"K","u":247,"v":274},{"t":"1","u":246,"v":250},{"t":"K","u":247,"v":113},{"t":"0","u":246,"v":90},{"t":"0","u":440,"v":172}
],
"vtext": [
{"t":"Excitation","d":"up","u":26,"v":180},{"t":"Fluorescence","d":"down","u":209,"v":185}
],
"legend": [{"t":"Transient Absorption","u1":104,"u2":168,"v":468,"ut":183}],
"tagB": [{"t":"(b)","u":-62,"v":469}]
},
"concat": [
{
"width": 302, "height": 463,
"resolve": {"axis": {"x": "independent", "y": "independent"}},
"layer": [
{"data": {"name": "leftCurves"}, "mark": {"type": "line", "color": "#222", "strokeWidth": 1.5, "strokeJoin": "round"},
"encoding": {
"x": {"field": "x", "type": "quantitative", "scale": {"domain": [383.4, 678], "nice": false, "zero": false},
"axis": {"orient": "bottom", "values": [390,400,410,420,430,440,450,460,470,480,490,500,510,520,530,540,550,560,570,580,590,600,610,620,630,640,650,660,670],
"labelExpr": "datum.value % 80 === 0 ? datum.label : ''", "labelOverlap": false, "labelFlush": false,
"labelFont": "Liberation Serif", "labelFontSize": 18, "labelColor": "#555", "labelPadding": 20,
"tickSize": {"condition": {"test": "datum.value % 40 === 0", "value": -7}, "value": -3.5},
"tickColor": "#555", "tickWidth": 1.3, "domainColor": "#555", "domainWidth": 1.6, "grid": false,
"title": "Wavelength /nm", "titleFont": "Liberation Serif", "titleFontStyle": "italic", "titleFontWeight": "normal", "titleFontSize": 23, "titleColor": "#555", "titlePadding": 8}},
"y": {"field": "y", "type": "quantitative", "scale": {"domain": [0, 8.418], "nice": false, "zero": false},
"axis": {"orient": "left", "values": [0.067,0.233,0.4,0.567,0.733,0.9,1.067,1.233,1.4,1.567,1.733,1.9,2.067,2.233,2.4,2.567,2.733,2.9,3.067,3.233,3.4,3.567,3.733,3.9,4.067,4.233,4.4,4.567,4.733,4.9,5.067,5.233,5.4,5.567,5.733,5.9,6.067,6.233,6.4,6.567,6.733,6.9,7.067,7.233,7.4,7.567,7.733,7.9,8.067,8.233,8.4],
"labels": false,
"tickSize": {"condition": {"test": "abs(datum.value - 0.4 - round(datum.value - 0.4)) < 0.01", "value": -7}, "value": -3.5},
"tickColor": "#555", "tickWidth": 1.3, "domainColor": "#555", "domainWidth": 1.6, "grid": false,
"title": "Absorbance (0.01/div.)", "titleFont": "Liberation Serif", "titleFontStyle": "italic", "titleFontWeight": "normal", "titleFontSize": 24, "titleColor": "#555", "titlePadding": 3, "titleY": 218}},
"detail": {"field": "s", "type": "nominal"}}},
{"data": {"name": "leftRefs"}, "mark": {"type": "rule", "color": "#666", "strokeWidth": 2},
"encoding": {
"x": {"field": "x1", "type": "quantitative",
"axis": {"orient": "top", "values": [390,400,410,420,430,440,450,460,470,480,490,500,510,520,530,540,550,560,570,580,590,600,610,620,630,640,650,660,670],
"labels": false, "title": null,
"tickSize": {"condition": {"test": "datum.value % 40 === 0", "value": -7}, "value": -3.5},
"tickColor": "#555", "tickWidth": 1.3, "domainColor": "#555", "domainWidth": 1.6, "grid": false}},
"x2": {"field": "x2"},
"y": {"field": "y", "type": "quantitative",
"axis": {"orient": "right", "values": [0.067,0.233,0.4,0.567,0.733,0.9,1.067,1.233,1.4,1.567,1.733,1.9,2.067,2.233,2.4,2.567,2.733,2.9,3.067,3.233,3.4,3.567,3.733,3.9,4.067,4.233,4.4,4.567,4.733,4.9,5.067,5.233,5.4,5.567,5.733,5.9,6.067,6.233,6.4,6.567,6.733,6.9,7.067,7.233,7.4,7.567,7.733,7.9,8.067,8.233,8.4],
"labels": false, "title": null,
"tickSize": {"condition": {"test": "abs(datum.value - 0.4 - round(datum.value - 0.4)) < 0.01", "value": -7}, "value": -3.5},
"tickColor": "#555", "tickWidth": 1.3, "domainColor": "#555", "domainWidth": 1.6, "grid": false}}}},
{"data": {"name": "leftLabels"}, "mark": {"type": "text", "font": "Liberation Serif", "fontSize": 15, "color": "#555"},
"encoding": {"x": {"field": "x", "type": "quantitative", "axis": null}, "y": {"field": "y", "type": "quantitative", "axis": null}, "text": {"field": "t"}}},
{"data": {"name": "leftArrows"}, "mark": {"type": "rule", "color": "#222", "strokeWidth": 3},
"encoding": {"x": {"field": "x", "type": "quantitative", "axis": null}, "y": {"field": "y1", "type": "quantitative", "axis": null}, "y2": {"field": "y2"}}},
{"data": {"name": "leftArrows"}, "mark": {"type": "point", "shape": "M0,1L-0.8,-1L0.8,-1Z", "size": 256, "filled": true, "color": "#222", "opacity": 1},
"encoding": {"x": {"field": "x", "type": "quantitative", "axis": null}, "y": {"field": "yh", "type": "quantitative", "axis": null}}},
{"data": {"name": "baseArrow"}, "mark": {"type": "rule", "color": "#222", "strokeWidth": 1.5},
"encoding": {"x": {"field": "x1", "type": "quantitative", "axis": null}, "y": {"field": "y1", "type": "quantitative", "axis": null}, "x2": {"field": "x2"}, "y2": {"field": "y2"}}},
{"data": {"name": "baseArrow"}, "mark": {"type": "point", "shape": "M0,-1L-0.45,1L0.45,1Z", "size": 196, "filled": true, "color": "#222", "opacity": 1, "angle": 78},
"encoding": {"x": {"field": "xh", "type": "quantitative", "axis": null}, "y": {"field": "yh", "type": "quantitative", "axis": null}}},
{"data": {"name": "tagA"}, "mark": {"type": "text", "align": "left", "baseline": "middle", "font": "Liberation Serif", "fontWeight": "bold", "fontSize": 21, "color": "#000"},
"encoding": {"x": {"field": "x", "type": "quantitative", "axis": null}, "y": {"field": "y", "type": "quantitative", "axis": null}, "text": {"field": "t"}}}
]
},
{
"width": 300, "height": 463,
"resolve": {"axis": {"x": "independent", "y": "independent"}},
"layer": [
{"data": {"name": "rightCurves"}, "mark": {"type": "line", "color": "#222", "strokeWidth": 1.5, "strokeJoin": "round"},
"encoding": {
"x": {"field": "x", "type": "quantitative", "scale": {"domain": [390.1, 687.4], "nice": false, "zero": false},
"axis": {"orient": "bottom", "values": [400,410,420,430,440,450,460,470,480,490,500,510,520,530,540,550,560,570,580,590,600,610,620,630,640,650,660,670,680],
"labelExpr": "datum.value % 80 === 0 ? datum.label : ''", "labelOverlap": false, "labelFlush": false,
"labelFont": "Liberation Serif", "labelFontSize": 18, "labelColor": "#555", "labelPadding": 20,
"tickSize": {"condition": {"test": "datum.value % 40 === 0", "value": -7}, "value": -3.5},
"tickColor": "#555", "tickWidth": 1.3, "domainColor": "#555", "domainWidth": 1.6, "grid": false,
"title": "Wavelength /nm", "titleFont": "Liberation Serif", "titleFontStyle": "italic", "titleFontWeight": "normal", "titleFontSize": 23, "titleColor": "#555", "titlePadding": 8}},
"y": {"field": "y", "type": "quantitative", "scale": {"domain": [0, 6.173], "nice": false, "zero": false},
"axis": {"orient": "left", "values": [0.2,0.4,0.6,0.8,1.0,1.2,1.4,1.6,1.8,2.0,2.2,2.4,2.6,2.8,3.0,3.2,3.4,3.6,3.8,4.0,4.2,4.4,4.6,4.8,5.0,5.2,5.4,5.6,5.8,6.0],
"labels": false,
"tickSize": {"condition": {"test": "abs(datum.value - 0.2 - round(datum.value - 0.2)) < 0.01", "value": -7}, "value": -3.5},
"tickColor": "#555", "tickWidth": 1.3, "domainColor": "#555", "domainWidth": 1.6, "grid": false,
"title": "Absorbance (0.01/div.)", "titleFont": "Liberation Serif", "titleFontStyle": "italic", "titleFontWeight": "normal", "titleFontSize": 24, "titleColor": "#555", "titlePadding": 9, "titleY": 220}},
"detail": {"field": "s", "type": "nominal"}}},
{"data": {"name": "rightRefs"}, "mark": {"type": "rule", "color": "#666", "strokeWidth": 2},
"encoding": {
"x": {"field": "x1", "type": "quantitative",
"axis": {"orient": "top", "values": [400,410,420,430,440,450,460,470,480,490,500,510,520,530,540,550,560,570,580,590,600,610,620,630,640,650,660,670,680],
"labels": false, "title": null,
"tickSize": {"condition": {"test": "datum.value % 40 === 0", "value": -7}, "value": -3.5},
"tickColor": "#555", "tickWidth": 1.3, "domainColor": "#555", "domainWidth": 1.6, "grid": false}},
"x2": {"field": "x2"},
"y": {"field": "y", "type": "quantitative",
"axis": {"orient": "right", "values": [0.2,0.4,0.6,0.8,1.0,1.2,1.4,1.6,1.8,2.0,2.2,2.4,2.6,2.8,3.0,3.2,3.4,3.6,3.8,4.0,4.2,4.4,4.6,4.8,5.0,5.2,5.4,5.6,5.8,6.0],
"labels": false, "title": null,
"tickSize": {"condition": {"test": "abs(datum.value - 0.2 - round(datum.value - 0.2)) < 0.01", "value": -7}, "value": -3.5},
"tickColor": "#555", "tickWidth": 1.3, "domainColor": "#555", "domainWidth": 1.6, "grid": false}}}},
{"data": {"name": "rightLabels"}, "mark": {"type": "text", "font": "Liberation Serif", "fontSize": 16, "color": "#555"},
"encoding": {"x": {"field": "x", "type": "quantitative", "axis": null}, "y": {"field": "y", "type": "quantitative", "axis": null}, "text": {"field": "t"}}}
]
},
{
"width": 302, "height": 491,
"layer": [
{"data": {"name": "vib"}, "mark": {"type": "rule", "strokeWidth": 1.5, "strokeDash": [2, 2]},
"encoding": {
"x": {"field": "u1", "type": "quantitative", "scale": {"domain": [0, 302], "nice": false, "zero": false}, "axis": null},
"x2": {"field": "u2"},
"y": {"field": "v", "type": "quantitative", "scale": {"domain": [0, 491], "nice": false, "zero": false}, "axis": null},
"color": {"field": "k", "type": "nominal", "scale": {"domain": ["strong", "weak"], "range": ["#222", "#888"]}, "legend": null}}},
{"data": {"name": "levels"}, "mark": {"type": "rule", "strokeWidth": 5, "color": "#000"},
"encoding": {"x": {"field": "u1", "type": "quantitative", "axis": null}, "x2": {"field": "u2"}, "y": {"field": "v", "type": "quantitative", "axis": null}}},
{"data": {"name": "ta"}, "mark": {"type": "rule", "strokeWidth": 7, "color": "#8a8a8a"},
"encoding": {"x": {"field": "u", "type": "quantitative", "axis": null}, "y": {"field": "v0", "type": "quantitative", "axis": null}, "y2": {"field": "v1"}}},
{"data": {"name": "ta"}, "mark": {"type": "point", "shape": "M0,-1L-0.95,1L0.95,1Z", "size": 900, "filled": true, "color": "#8a8a8a", "opacity": 1},
"encoding": {"x": {"field": "u", "type": "quantitative", "axis": null}, "y": {"field": "vh", "type": "quantitative", "axis": null}}},
{"data": {"name": "trans"}, "mark": {"type": "rule", "strokeWidth": 2.5, "color": "#000"},
"encoding": {"x": {"field": "u", "type": "quantitative", "axis": null}, "y": {"field": "v0", "type": "quantitative", "axis": null}, "y2": {"field": "v1"}}},
{"data": {"name": "waves"}, "mark": {"type": "line", "interpolate": "catmull-rom", "color": "#222", "strokeWidth": 1.4},
"encoding": {"x": {"field": "u", "type": "quantitative", "axis": null}, "y": {"field": "v", "type": "quantitative", "axis": null}, "detail": {"field": "id", "type": "nominal"}, "order": {"field": "i", "type": "quantitative"}}},
{"data": {"name": "heads"}, "transform": [{"filter": "datum.k === 'big' && datum.d === 'up'"}], "mark": {"type": "point", "shape": "M0,-1L-0.42,0.65L0,0.35L0.42,0.65Z", "size": 900, "filled": true, "color": "#000", "opacity": 1, "angle": 0},
"encoding": {"x": {"field": "u", "type": "quantitative", "axis": null}, "y": {"field": "v", "type": "quantitative", "axis": null}}},
{"data": {"name": "heads"}, "transform": [{"filter": "datum.k === 'big' && datum.d === 'down'"}], "mark": {"type": "point", "shape": "M0,-1L-0.42,0.65L0,0.35L0.42,0.65Z", "size": 900, "filled": true, "color": "#000", "opacity": 1, "angle": 180},
"encoding": {"x": {"field": "u", "type": "quantitative", "axis": null}, "y": {"field": "v", "type": "quantitative", "axis": null}}},
{"data": {"name": "heads"}, "transform": [{"filter": "datum.k === 'small' && datum.d === 'right'"}], "mark": {"type": "point", "shape": "M0,-1L-0.7,0.8L0,0.35L0.7,0.8Z", "size": 256, "filled": true, "color": "#000", "opacity": 1, "angle": 90},
"encoding": {"x": {"field": "u", "type": "quantitative", "axis": null}, "y": {"field": "v", "type": "quantitative", "axis": null}}},
{"data": {"name": "heads"}, "transform": [{"filter": "datum.k === 'small' && datum.d === 'down'"}], "mark": {"type": "point", "shape": "M0,-1L-0.7,0.8L0,0.35L0.7,0.8Z", "size": 256, "filled": true, "color": "#000", "opacity": 1, "angle": 180},
"encoding": {"x": {"field": "u", "type": "quantitative", "axis": null}, "y": {"field": "v", "type": "quantitative", "axis": null}}},
{"data": {"name": "heads"}, "transform": [{"filter": "datum.d === 'downleft'"}], "mark": {"type": "point", "shape": "M0,-1L-0.7,0.8L0,0.35L0.7,0.8Z", "size": 256, "filled": true, "color": "#000", "opacity": 1, "angle": 228},
"encoding": {"x": {"field": "u", "type": "quantitative", "axis": null}, "y": {"field": "v", "type": "quantitative", "axis": null}}},
{"data": {"name": "heads"}, "transform": [{"filter": "datum.d === 'barrier'"}], "mark": {"type": "point", "shape": "M0,-1L-0.7,0.8L0,0.35L0.7,0.8Z", "size": 196, "filled": true, "color": "#000", "opacity": 1, "angle": 202},
"encoding": {"x": {"field": "u", "type": "quantitative", "axis": null}, "y": {"field": "v", "type": "quantitative", "axis": null}}},
{"data": {"name": "dtext"}, "mark": {"type": "text", "font": "Liberation Serif", "fontSize": 19, "color": "#000"},
"encoding": {"x": {"field": "u", "type": "quantitative", "axis": null}, "y": {"field": "v", "type": "quantitative", "axis": null}, "text": {"field": "t"}}},
{"data": {"name": "sLetters"}, "mark": {"type": "text", "font": "Liberation Serif", "fontSize": 21, "color": "#000"},
"encoding": {"x": {"field": "u", "type": "quantitative", "axis": null}, "y": {"field": "v", "type": "quantitative", "axis": null}, "text": {"field": "t"}}},
{"data": {"name": "sIdx"}, "mark": {"type": "text", "font": "Liberation Serif", "fontSize": 13, "color": "#000"},
"encoding": {"x": {"field": "u", "type": "quantitative", "axis": null}, "y": {"field": "v", "type": "quantitative", "axis": null}, "text": {"field": "t"}}},
{"data": {"name": "vtext"}, "transform": [{"filter": "datum.d === 'up'"}], "mark": {"type": "text", "font": "Liberation Serif", "fontSize": 22, "color": "#000", "angle": 270},
"encoding": {"x": {"field": "u", "type": "quantitative", "axis": null}, "y": {"field": "v", "type": "quantitative", "axis": null}, "text": {"field": "t"}}},
{"data": {"name": "vtext"}, "transform": [{"filter": "datum.d === 'down'"}], "mark": {"type": "text", "font": "Liberation Serif", "fontSize": 22, "color": "#000", "angle": 90},
"encoding": {"x": {"field": "u", "type": "quantitative", "axis": null}, "y": {"field": "v", "type": "quantitative", "axis": null}, "text": {"field": "t"}}},
{"data": {"name": "legend"}, "mark": {"type": "rule", "strokeWidth": 7, "color": "#8a8a8a"},
"encoding": {"x": {"field": "u1", "type": "quantitative", "axis": null}, "x2": {"field": "u2"}, "y": {"field": "v", "type": "quantitative", "axis": null}}},
{"data": {"name": "legend"}, "mark": {"type": "text", "align": "left", "font": "Liberation Serif", "fontSize": 19, "color": "#000"},
"encoding": {"x": {"field": "ut", "type": "quantitative", "axis": null}, "y": {"field": "v", "type": "quantitative", "axis": null}, "text": {"field": "t"}}},
{"data": {"name": "tagB"}, "mark": {"type": "text", "align": "left", "font": "Liberation Serif", "fontWeight": "bold", "fontSize": 21, "color": "#000"},
"encoding": {"x": {"field": "u", "type": "quantitative", "axis": null}, "y": {"field": "v", "type": "quantitative", "axis": null}, "text": {"field": "t"}}}
]
}
],
"columns": 2,
"align": "each",
"bounds": "flush",
"spacing": {"row": 103, "column": 48}
}
